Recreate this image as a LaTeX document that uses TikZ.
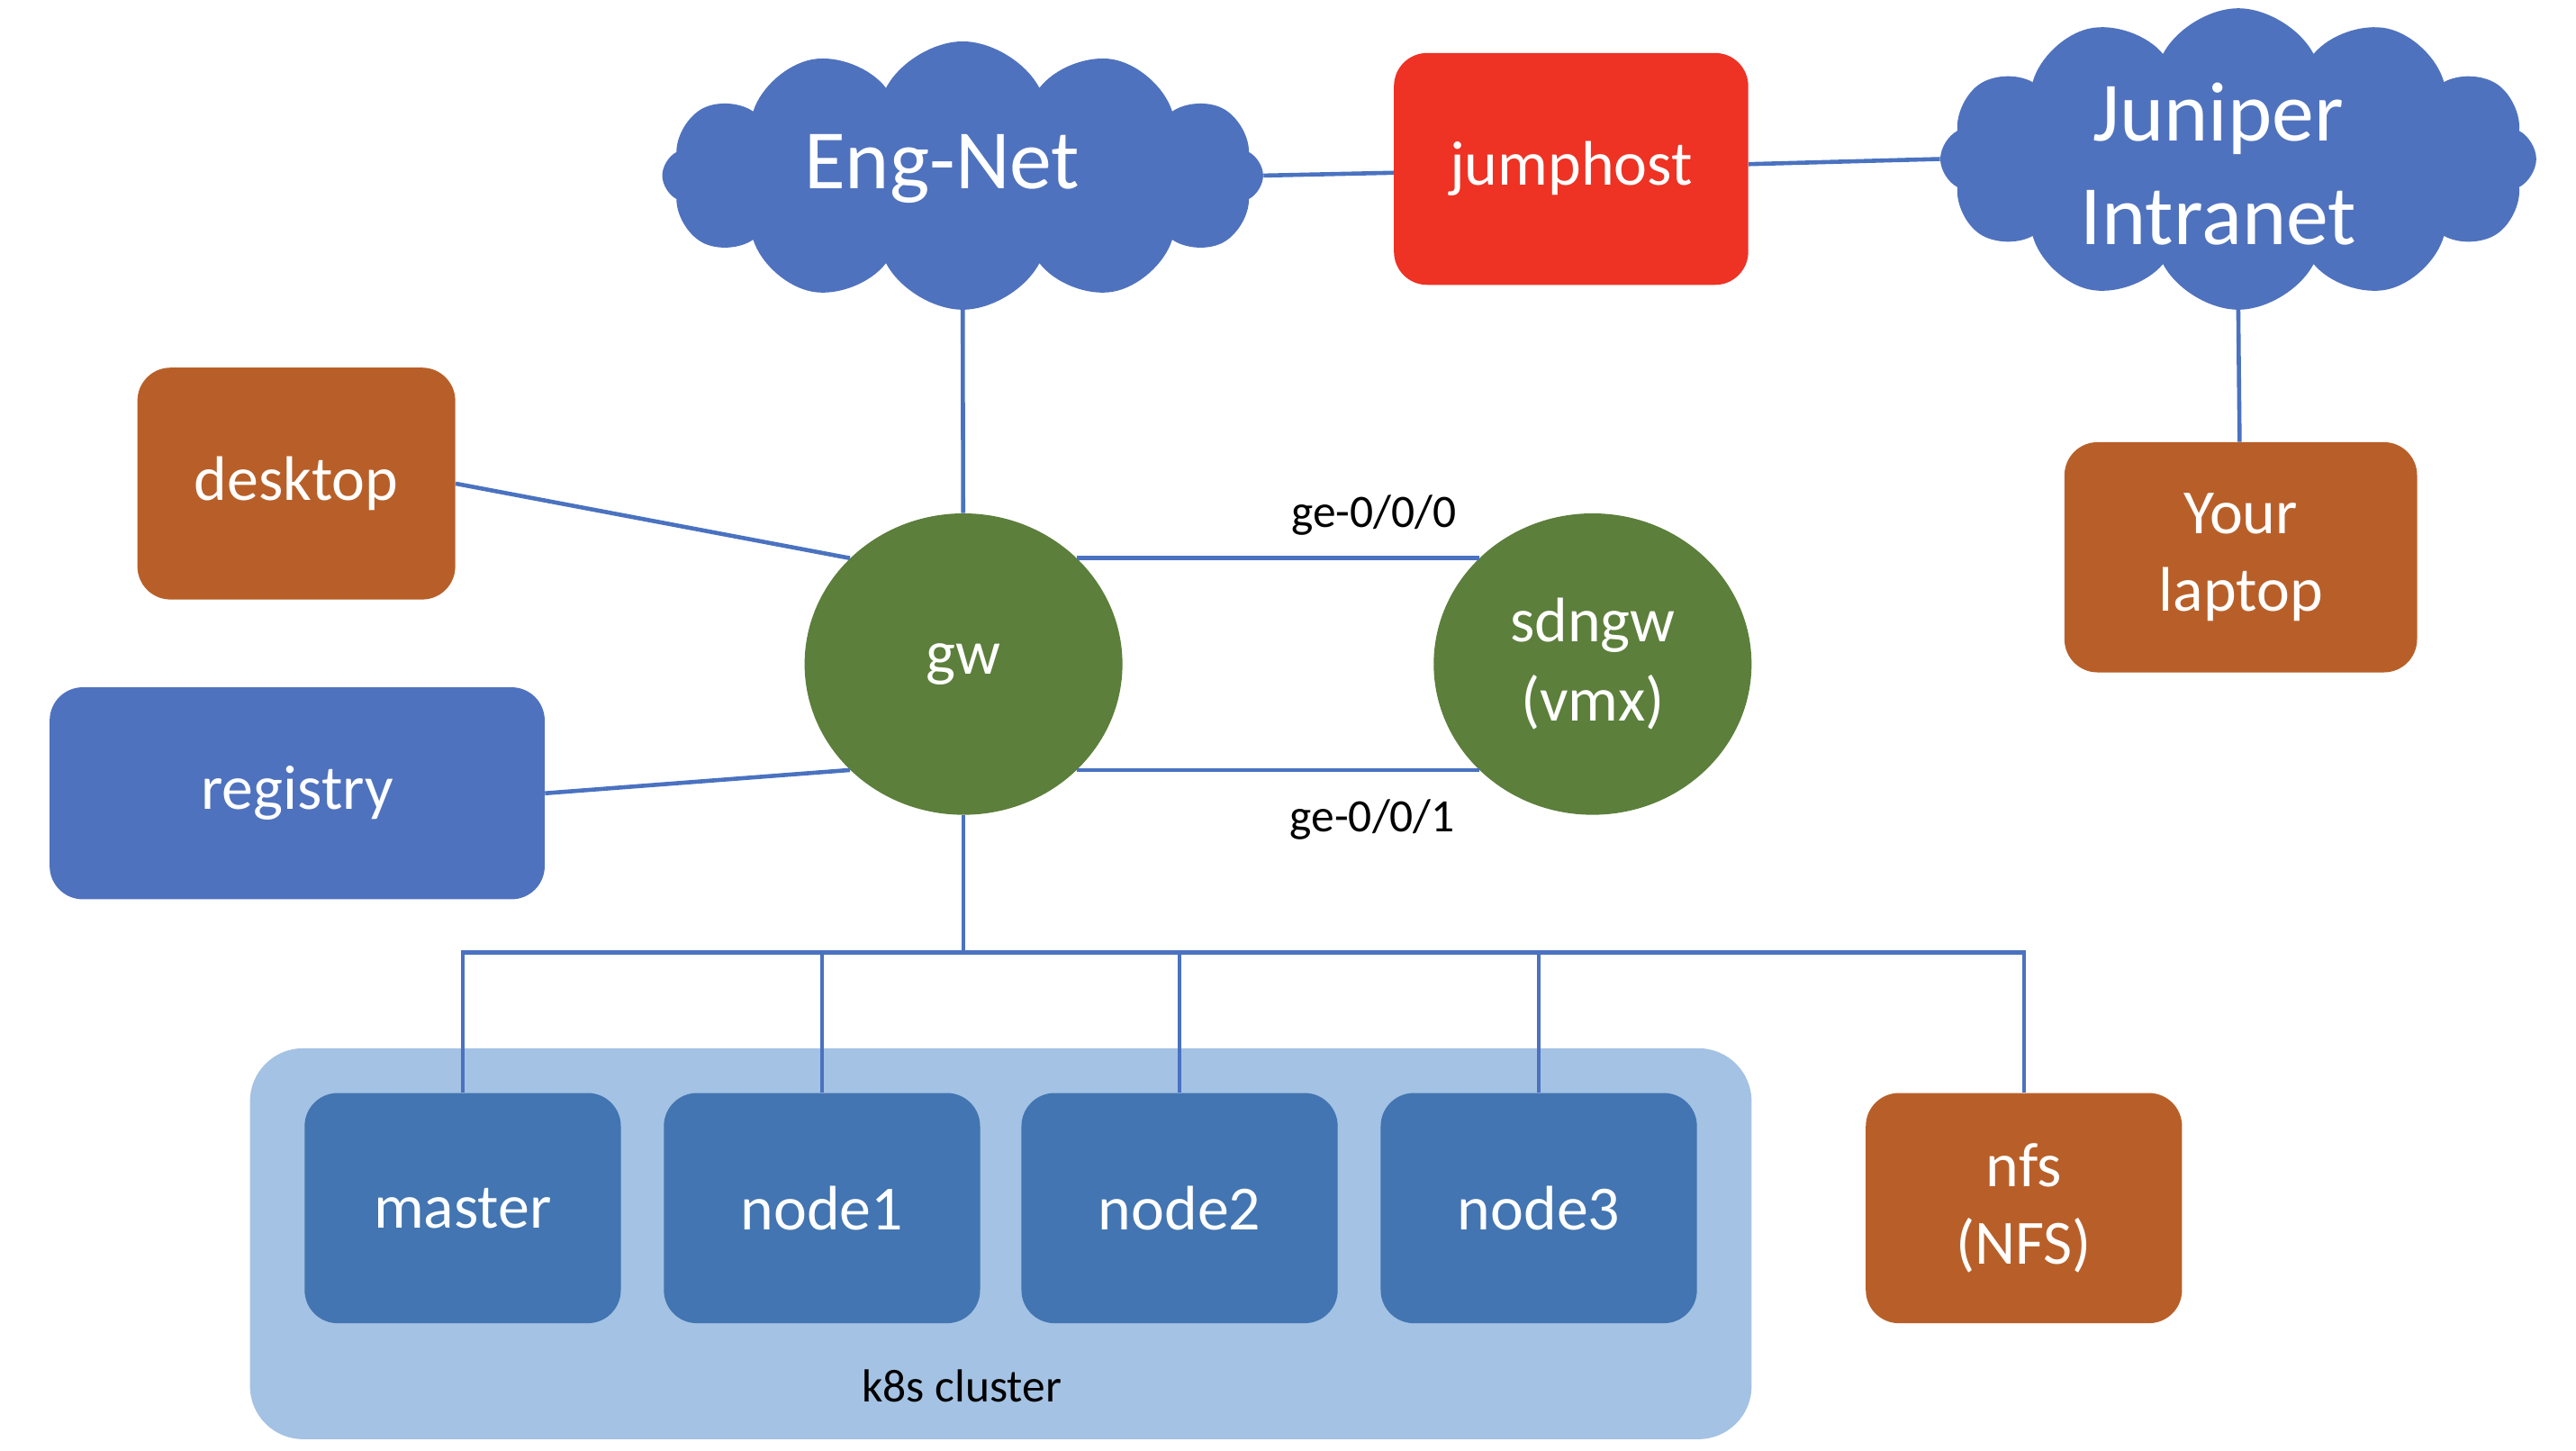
\documentclass[tikz,border=0pt]{standalone}
\usepackage{fontspec}
\setmainfont{Carlito}
\usetikzlibrary{shapes.symbols,shapes.geometric}
\definecolor{cloudblue}{HTML}{4F72BE}
\definecolor{linkblue}{HTML}{4A72C0}
\definecolor{jumpred}{HTML}{EE3224}
\definecolor{hostbrown}{HTML}{B85F29}
\definecolor{gwgreen}{HTML}{5C7F3B}
\definecolor{k8sblue}{HTML}{4275B1}
\definecolor{k8sbg}{HTML}{A4C2E3}
\tikzset{
	link/.style={draw=linkblue,line width=2.5pt},
	netcloud/.style={cloud,cloud puffs=12,cloud puff arc=125,cloud ignores aspect,fill=cloudblue,inner sep=0pt},
	cloudtext/.style={text=white,align=center,inner sep=0pt,font=\fontsize{51}{63}\selectfont},
	hostbox/.style={rectangle,rounded corners=20pt,text=white,align=center,inner sep=0pt,font=\fontsize{38}{47}\selectfont},
	router/.style={ellipse,fill=gwgreen,text=white,align=center,inner sep=0pt,minimum width=192pt,minimum height=182pt,font=\fontsize{38}{48}\selectfont},
	port/.style={inner sep=0pt,font=\fontsize{28}{34}\selectfont}
}
\begin{document}
\begin{tikzpicture}[x=1pt,y=-1pt]
	\useasboundingbox (0,0) rectangle (1556,876);

	% cluster background
	\node 	(k8s)		at	(604.5,751)	[rectangle,rounded corners=32pt,fill=k8sbg,minimum width=907pt,minimum height=236pt]{};
	\node 	(k8slabel)	at	(581,837)	[port]{k8s cluster};

	% clouds and jumphost
	\node 	(engnet)	at	(581.5,106)	[netcloud,minimum width=363pt,minimum height=162pt]{};
	\node 	(engtext)	at	(569,102)	[cloudtext]{Eng-Net};
	\node 	(juniper)	at	(1352,96)	[netcloud,minimum width=360pt,minimum height=182pt]{};
	\node 	(juntext)	at	(1340,99)	[cloudtext]{Juniper\\Intranet};
	\node 	(jump)		at	(949,102)	[hostbox,fill=jumpred,minimum width=214pt,minimum height=140pt]{jumphost}
		edge[link]		(engnet.east)
		edge[link]		(juniper.west);

	\node 	(laptop)	at	(1353.5,336.5)	[hostbox,fill=hostbrown,minimum width=213pt,minimum height=139pt]{Your\\laptop}
		edge[link]		(juniper.south);

	% routers
	\node 	(gw)		at	(582,401)	[router]{gw}
		edge[link]		(engnet.south);
	\node 	(sdngw)		at	(962,401)	[router]{sdngw\\(vmx)};

	\draw[link] (gw.43) 	-- 	(sdngw.137);
	\draw[link] (gw.-43) 	-- 	(sdngw.-137);
	\node 	(ge0)		at	(830,311)	[port]{ge-0/0/0};
	\node 	(ge1)		at	(829,495)	[port]{ge-0/0/1};

	% hosts on the left
	\node 	(desktop)	at	(179,292)	[hostbox,fill=hostbrown,minimum width=192pt,minimum height=140pt]{desktop};
	\node 	(registry)	at	(179.5,479)	[hostbox,fill=cloudblue,minimum width=299pt,minimum height=128pt]{registry};
	\draw[link] (desktop.east) 	-- 	(gw.137);
	\draw[link] (registry.east) 	-- 	(gw.223);

	% cluster hosts
	\node 	(master)	at	(279.5,729.5)	[hostbox,fill=k8sblue,minimum width=191pt,minimum height=139pt]{master};
	\node 	(node1)		at	(496.5,729.5)	[hostbox,fill=k8sblue,minimum width=191pt,minimum height=139pt]{node1};
	\node 	(node2)		at	(712.5,729.5)	[hostbox,fill=k8sblue,minimum width=191pt,minimum height=139pt]{node2};
	\node 	(node3)		at	(929.5,729.5)	[hostbox,fill=k8sblue,minimum width=191pt,minimum height=139pt]{node3};
	\node 	(nfs)		at	(1222.5,729.5)	[hostbox,fill=hostbrown,minimum width=191pt,minimum height=139pt]{nfs\\(NFS)};

	% bus below gw
	\coordinate (bus) at (582,575);
	\draw[link] (gw.south) 	-- 	(bus);
	\foreach \h in {master,node1,node2,node3,nfs}
		\draw[link] (\h.north) 	|- 	(bus);

\end{tikzpicture}
\end{document}
